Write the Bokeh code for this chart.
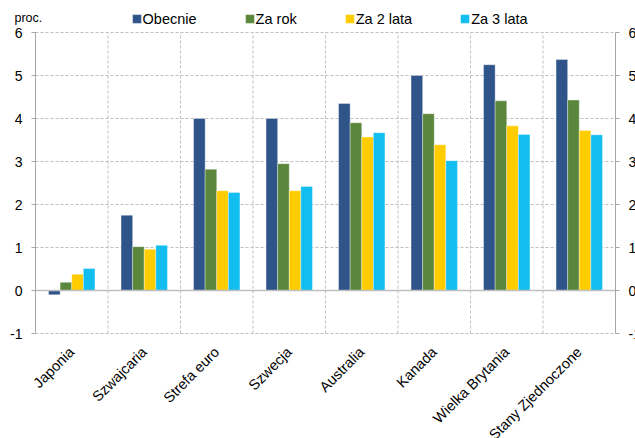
from math import pi

from bokeh.plotting import figure
from bokeh.models import (ColumnDataSource, Range1d, FixedTicker, LinearAxis,
                          Legend, LegendItem, Label)
from bokeh.transform import dodge
from bokeh.embed import file_html
from bokeh.resources import INLINE

# ---- data ----
countries = ["Japonia", "Szwajcaria", "Strefa euro", "Szwecja", "Australia",
             "Kanada", "Wielka Brytania", "Stany Zjednoczone"]
series_names = ["Obecnie", "Za rok", "Za 2 lata", "Za 3 lata"]
obecnie = [-0.10, 1.75, 4.00, 4.00, 4.35, 5.00, 5.25, 5.37]
za_rok = [0.19, 1.02, 2.82, 2.95, 3.90, 4.11, 4.41, 4.43]
za_2_lata = [0.38, 0.96, 2.32, 2.32, 3.57, 3.39, 3.83, 3.72]
za_3_lata = [0.51, 1.05, 2.28, 2.42, 3.67, 3.02, 3.63, 3.62]
y_ticks = [-1, 0, 1, 2, 3, 4, 5, 6]
y_tick_labels = ["-1", "0", "1", "2", "3", "4", "5", "6"]
y_unit = "proc."

# ---- style / layout ----
colors = ["#2E548A", "#5B873C", "#FFCC00", "#12BEF0"]
FONT = "Liberation Sans"
GRID = "#BFBFBF"
AXIS = "#A6A6A6"
W, H = 635, 438
PLOT_L, PLOT_R, PLOT_T, PLOT_B = 35, 615, 32, 333   # pixel box of the chart area

n = len(countries)
ymin, ymax = y_ticks[0], y_ticks[-1]
px_x = (PLOT_R - PLOT_L) / n
px_y = (PLOT_B - PLOT_T) / (ymax - ymin)
x_range = Range1d(-PLOT_L / px_x, n + (W - PLOT_R) / px_x)
y_range = Range1d(ymin - (H - PLOT_B) / px_y, ymax + PLOT_T / px_y)

centers = [i + 0.5 for i in range(n)]
source = ColumnDataSource(dict(xc=centers, s0=obecnie, s1=za_rok, s2=za_2_lata, s3=za_3_lata))

p = figure(width=W, height=H, x_range=x_range, y_range=y_range,
           output_backend="svg", toolbar_location=None,
           x_axis_location=None, y_axis_location=None,
           min_border=0, min_border_left=0, min_border_right=0,
           min_border_top=0, min_border_bottom=0)
p.title.visible = False
p.background_fill_color = "white"
p.border_fill_color = "white"
p.outline_line_color = None
p.xgrid.visible = False
p.ygrid.visible = False

# dashed grid (category boundaries and y ticks)
bounds_x = list(range(n + 1))
p.segment(x0=bounds_x, x1=bounds_x, y0=[ymin] * (n + 1), y1=[ymax] * (n + 1),
          line_color=GRID, line_dash="3 2", line_width=1)
p.segment(x0=[0] * len(y_ticks), x1=[n] * len(y_ticks), y0=y_ticks, y1=y_ticks,
          line_color=GRID, line_dash="3 2", line_width=1)

# bars
offsets = [-0.24, -0.08, 0.08, 0.24]
keys = ["s0", "s1", "s2", "s3"]
renderers = []
for key, off, col in zip(keys, offsets, colors):
    r = p.vbar(x=dodge("xc", off), top=key, bottom=0, width=0.16, source=source,
               fill_color=col, line_color="white", line_alpha=0.35, line_width=1)
    renderers.append(r)

# zero line
p.segment(x0=[0], x1=[n], y0=[0], y1=[0], line_color=GRID, line_width=1.5)

tick_overrides = {t: s for t, s in zip(y_ticks, y_tick_labels)}

# left axis
la = LinearAxis(fixed_location=0, bounds=(ymin, ymax), ticker=FixedTicker(ticks=y_ticks),
                axis_line_color=AXIS, major_tick_line_color=AXIS, major_tick_in=0,
                major_tick_out=4, minor_tick_line_color=None, major_label_standoff=9,
                major_label_text_font=FONT, major_label_text_font_size="14px",
                major_label_text_color="black", major_label_overrides=tick_overrides)
p.add_layout(la, "left")

# right axis
ra = LinearAxis(fixed_location=n, bounds=(ymin, ymax), ticker=FixedTicker(ticks=y_ticks),
                axis_line_color=AXIS, major_tick_line_color=AXIS, major_tick_in=0,
                major_tick_out=4, minor_tick_line_color=None, major_label_standoff=9,
                major_label_text_font=FONT, major_label_text_font_size="14px",
                major_label_text_color="black", major_label_overrides=tick_overrides)
p.add_layout(ra, "right")

# bottom axis with category names
ba = LinearAxis(fixed_location=ymin, bounds=(0, n), ticker=FixedTicker(ticks=centers),
                axis_line_color=None, major_tick_line_color=None, minor_tick_line_color=None,
                major_label_orientation=pi / 4, major_label_standoff=10,
                major_label_text_font=FONT, major_label_text_font_size="14.5px",
                major_label_text_color="black",
                major_label_overrides={c: name for c, name in zip(centers, countries)})
p.add_layout(ba, "below")

# unit label
p.add_layout(Label(x=14, y=H - 17.5, x_units="screen", y_units="screen", text=y_unit,
                   text_font=FONT, text_font_size="12.5px", text_color="black",
                   text_align="left", text_baseline="middle"))

# legend
legend = Legend(items=[LegendItem(label=nm, renderers=[r]) for nm, r in zip(series_names, renderers)],
                orientation="horizontal", location=(130.6, H - 28.5),
                glyph_width=11, glyph_height=11, label_standoff=1, spacing=47,
                padding=0, margin=0, border_line_color=None, background_fill_alpha=0,
                label_text_font=FONT, label_text_font_size="14.5px",
                label_text_color="black", label_height=20)
p.add_layout(legend)

open("out.html", "w").write(file_html(p, INLINE))
